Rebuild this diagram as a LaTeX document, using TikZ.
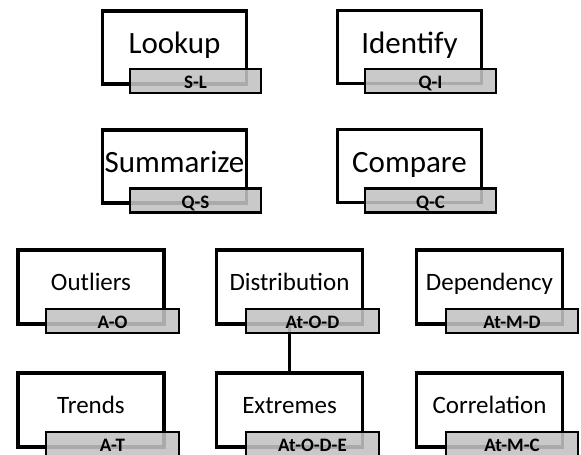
\documentclass[tikz,border=0pt]{standalone}
\usepackage{fontspec}
\setmainfont{Carlito}
\definecolor{taggray}{RGB}{194,194,194}
\tikzset{
  bigtask/.style={draw=black, line width=3.8pt, fill=white, minimum width=144pt, minimum height=73pt, inner sep=0pt, text height=23pt, text depth=11pt, font=\fontsize{31}{34}\selectfont},
  task/.style={draw=black, line width=3.8pt, fill=white, minimum width=146pt, minimum height=74pt, inner sep=0pt, text height=18pt, text depth=12pt, font=\fontsize{25}{28}\selectfont},
  bigtag/.style={draw=black, line width=2.4pt, fill=taggray, fill opacity=0.88, draw opacity=1, text opacity=1, minimum width=130.5pt, minimum height=24pt, inner sep=0pt, text height=15pt, text depth=0pt, font=\bfseries\fontsize{19}{20}\selectfont},
  tag/.style={bigtag, minimum width=132.5pt}
}
\begin{document}
\begin{tikzpicture}[x=1pt,y=-1pt]
\useasboundingbox (0,0) rectangle (581,455);

% queries
\node[bigtask] (lookup) at (174.5,47.5) {Lookup};
\node[bigtag] (lookupTag) at (195.5,81) {S-L};
\node[bigtask] (identify) at (409.5,47) {Identify};
\node[bigtag] (identifyTag) at (430.5,81) {Q-I};
\node[bigtask] (summarize) at (174.5,166.5) {Summarize};
\node[bigtag] (summarizeTag) at (195.5,200.5) {Q-S};
\node[bigtask] (compare) at (409.5,166) {Compare};
\node[bigtag] (compareTag) at (430.5,200.5) {Q-C};

% analysis
\node[task] (outliers) at (91,287) {Outliers};
\node[tag] (outliersTag) at (112.5,321) {A-O};
\node[task] (distribution) at (289.5,287) {Distribution};
\node[task] (dependency) at (489.5,287) {Dependency};
\node[tag] (dependencyTag) at (512,321) {At-M-D};
\node[task] (trends) at (91,410) {Trends};
\node[tag] (trendsTag) at (112.5,444) {A-T};
\node[task] (extremes) at (289.5,410) {Extremes};
\node[tag] (extremesTag) at (312.5,444) {At-O-D-E};
\node[task] (correlation) at (489.5,410) {Correlation};
\node[tag] (correlationTag) at (512,444) {At-M-C};

\draw[line width=2.4pt] (extremes.north) -- (extremes.north |- 0,321);
\node[tag] (distributionTag) at (312.5,321) {At-O-D};
\end{tikzpicture}
\end{document}
